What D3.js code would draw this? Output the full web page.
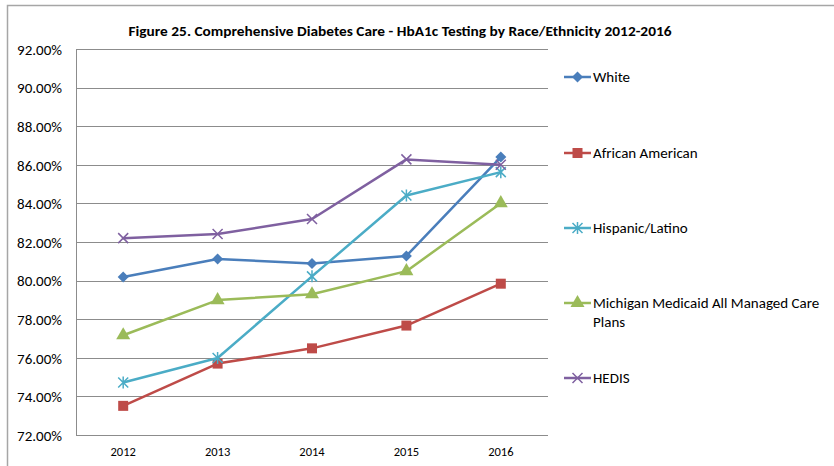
<!DOCTYPE html>
<html><head><meta charset="utf-8">
<script src="https://cdn.jsdelivr.net/npm/d3@7"></script>
<style>body{margin:0;background:#fff}svg{display:block}text{font-family:Carlito,Calibri,"Open Sans",sans-serif}</style>
</head><body>
<svg id="c" width="834" height="466"></svg>
<script>
const years = ["2012","2013","2014","2015","2016"];
const seriesNames = ["White","African American","Hispanic/Latino","Michigan Medicaid All Managed Care Plans","HEDIS"];
const white = [80.19, 81.12, 80.88, 81.28, 86.40];
const africanAmerican = [73.51, 75.70, 76.49, 77.67, 79.84];
const hispanicLatino = [74.72, 75.99, 80.22, 84.41, 85.62];
const michigan = [77.17, 78.99, 79.29, 80.49, 84.01];
const hedis = [82.20, 82.41, 83.19, 86.28, 86.00];
const yTicks = [72,74,76,78,80,82,84,86,88,90,92];
const title = "Figure 25. Comprehensive Diabetes Care - HbA1c Testing by Race/Ethnicity 2012-2016";

const colors = ["#4A7EBB","#BE4B48","#4BACC6","#9BBB59","#7F60A0"];
const markers = ["diamond","square","asterisk","triangle","x"];
const allValues = [white, africanAmerican, hispanicLatino, michigan, hedis];

const svg = d3.select("#c");
// outer frame
svg.append("path").attr("d","M7.5,466 V5.5 H834").attr("fill","none").attr("stroke","#a6a6a6").attr("stroke-width",1.5);

const L = 76, R = 548, T = 49, B = 435;
const x = d3.scaleBand().domain(years).range([L,R]);
const y = d3.scaleLinear().domain([72,92]).range([B,T]);

// gridlines
svg.append("g").selectAll("line").data(yTicks).join("line")
  .attr("x1",L).attr("x2",R).attr("y1",d=>Math.round(y(d))+0.5).attr("y2",d=>Math.round(y(d))+0.5)
  .attr("stroke","#8c8c8c").attr("stroke-width",1);
// left axis line
svg.append("line").attr("x1",L+0.5).attr("x2",L+0.5).attr("y1",T).attr("y2",B).attr("stroke","#8c8c8c");

// y axis labels
const yAxis = d3.axisLeft(y).tickValues(yTicks).tickSize(0).tickPadding(14).tickFormat(d=>d.toFixed(2)+"%");
const gy = svg.append("g").attr("transform",`translate(${L},0)`).call(yAxis);
gy.select(".domain").remove();
gy.selectAll("text").attr("font-size",15).attr("fill","#000").attr("dy","0.35em").style("font-family","Carlito,Calibri,'Open Sans',sans-serif");

// x axis labels
const xAxis = d3.axisBottom(x).tickSize(0).tickPadding(12);
const gx = svg.append("g").attr("transform",`translate(0,${B})`).call(xAxis);
gx.select(".domain").remove();
gx.selectAll("text").attr("font-size",12.5).attr("fill","#000").style("font-family","Carlito,Calibri,'Open Sans',sans-serif");

// title
svg.append("text").attr("x",400).attr("y",36).attr("text-anchor","middle")
  .attr("font-size",13).attr("font-weight","bold").attr("textLength",543).attr("lengthAdjust","spacingAndGlyphs").text(title);

function drawMarker(g, type, cx, cy, color){
  if(type==="diamond"){
    g.append("path").attr("d",`M${cx},${cy-5.5}L${cx+5.5},${cy}L${cx},${cy+5.5}L${cx-5.5},${cy}Z`).attr("fill",color);
  } else if(type==="square"){
    g.append("rect").attr("x",cx-5).attr("y",cy-5).attr("width",10).attr("height",10).attr("fill",color);
  } else if(type==="triangle"){
    g.append("path").attr("d",d3.symbol().type(d3.symbolTriangle).size(85)()).attr("transform",`translate(${cx},${cy})`).attr("fill",color);
  } else if(type==="x"){
    g.append("path").attr("d",`M${cx-5},${cy-5}L${cx+5},${cy+5}M${cx-5},${cy+5}L${cx+5},${cy-5}`).attr("stroke",color).attr("stroke-width",1.5);
  } else if(type==="asterisk"){
    g.append("path").attr("d",`M${cx-5},${cy-5}L${cx+5},${cy+5}M${cx-5},${cy+5}L${cx+5},${cy-5}M${cx},${cy-6}L${cx},${cy+6}`).attr("stroke",color).attr("stroke-width",1.5);
  }
}

const line = d3.line().x((d,i)=>x(years[i])+x.bandwidth()/2).y(d=>y(d));
allValues.forEach((vals,si)=>{
  const g = svg.append("g");
  g.append("path").datum(vals).attr("d",line).attr("fill","none").attr("stroke",colors[si]).attr("stroke-width",2.5).attr("stroke-linejoin","round");
  vals.forEach((v,i)=>drawMarker(g, markers[si], x(years[i])+x.bandwidth()/2, y(v), colors[si]));
});

// legend
const legY = [77,153,228,303,378];
seriesNames.forEach((name,si)=>{
  const g = svg.append("g");
  const ly = legY[si];
  g.append("line").attr("x1",564).attr("x2",591).attr("y1",ly).attr("y2",ly).attr("stroke",colors[si]).attr("stroke-width",2.5);
  drawMarker(g, markers[si], 577.5, ly, colors[si]);
  if(si===3){
    const t = g.append("text").attr("x",593).attr("y",ly+5).attr("font-size",15).attr("fill","#000");
    t.append("tspan").attr("x",593).text("Michigan Medicaid All Managed Care");
    t.append("tspan").attr("x",593).attr("dy",19).text("Plans");
  } else {
    g.append("text").attr("x",593).attr("y",ly+5).attr("font-size",15).attr("fill","#000").text(name);
  }
});
</script>
</body></html>
